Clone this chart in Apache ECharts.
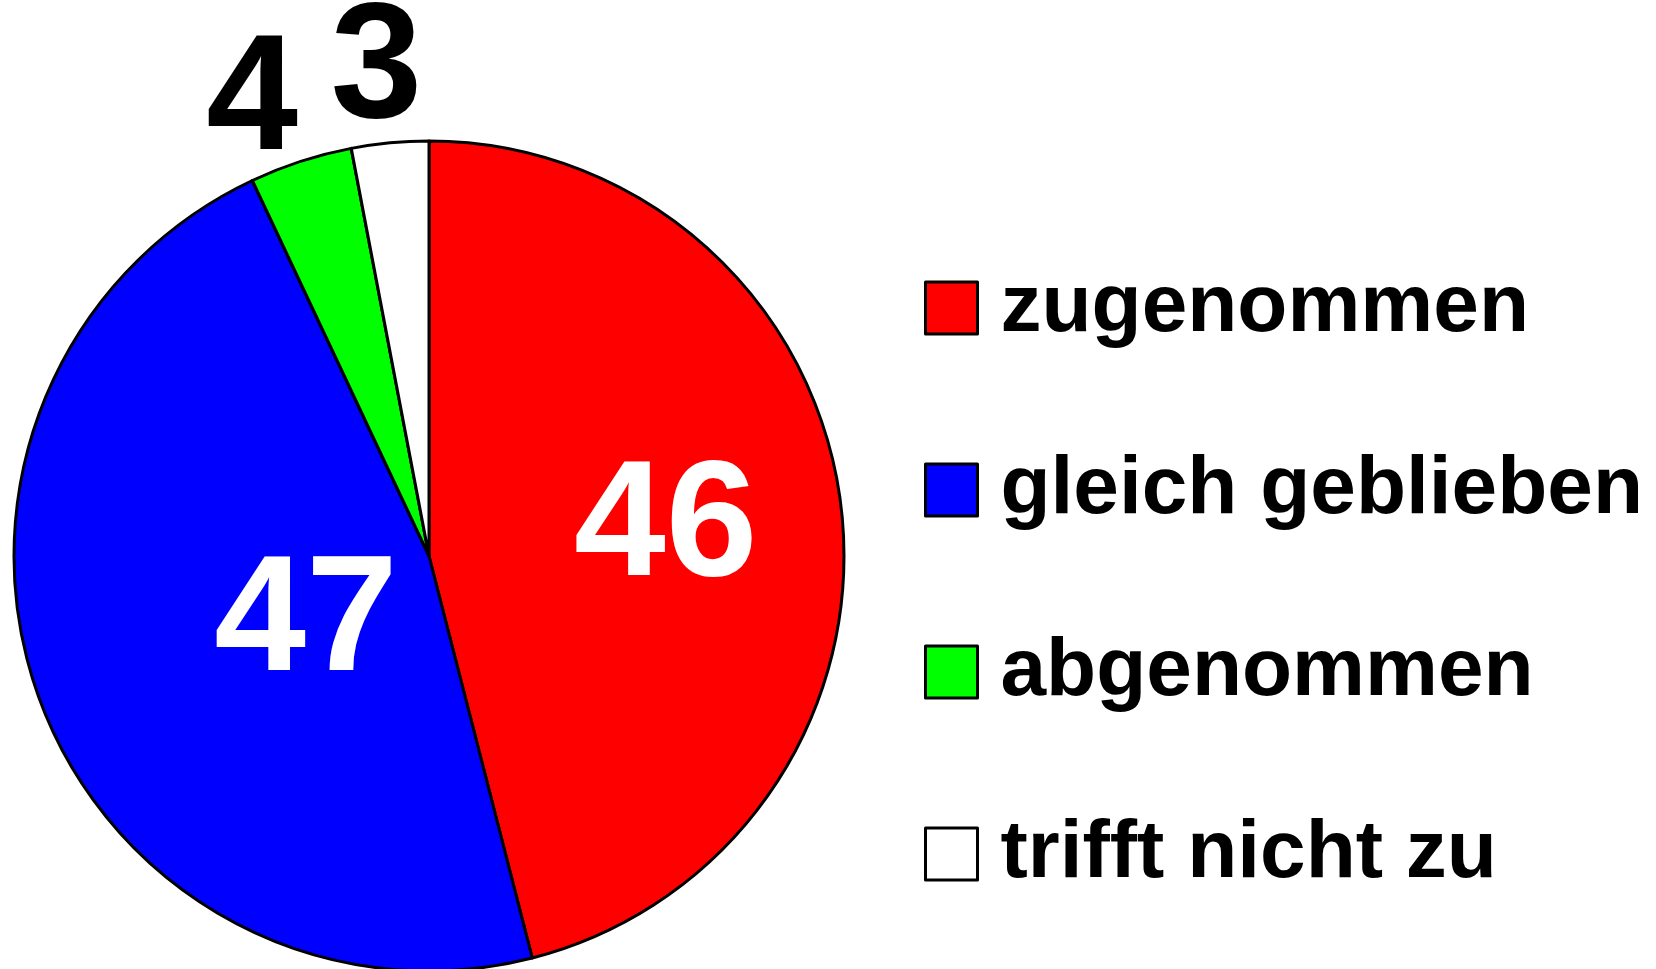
<!DOCTYPE html>
<html>
<head>
<meta charset="utf-8">
<script src="https://cdn.jsdelivr.net/npm/echarts@6/dist/echarts.min.js"></script>
<style>
  html, body { margin: 0; padding: 0; background: #fff; }
  #chart { width: 1656px; height: 969px; }
</style>
</head>
<body>
<div id="chart"></div>
<script>
// Antworten (Anzahl) und Farben
const categories = ['zugenommen', 'gleich geblieben', 'abgenommen', 'trifft nicht zu'];
const values = [46, 47, 4, 3];
const colors = ['#ff0000', '#0000ff', '#00ff00', '#ffffff'];

const FONT = '"Liberation Sans", Arial, sans-serif';

// Feinjustierung der Beschriftung (Verschiebung in Pixel)
const labelShift = {
    0: [28, 0],
    1: [75, -3],
    2: [24, 9],
    3: [44, -2]
};

const chart = echarts.init(document.getElementById('chart'));

chart.setOption({
    animation: false,
    backgroundColor: '#fff',
    legend: {
        orient: 'vertical',
        left: 924,
        top: 267,
        padding: 0,
        itemWidth: 52,
        itemHeight: 52,
        itemGap: 100,
        icon: 'rect',
        selectedMode: false,
        itemStyle: { borderColor: '#000', borderWidth: 3 },
        textStyle: {
            fontFamily: FONT,
            fontWeight: 'bold',
            fontSize: 82,
            color: '#000',
            padding: [0, 0, 0, 18]
        }
    },
    series: [{
        type: 'pie',
        center: [429, 556],
        radius: 415,
        startAngle: 90,
        clockwise: true,
        avoidLabelOverlap: false,
        itemStyle: {
            borderColor: '#000',
            borderWidth: 3
        },
        labelLine: { show: false, length: 70, length2: 0 },
        labelLayout: function (params) {
            const s = labelShift[params.dataIndex] || [0, 0];
            return { dx: s[0], dy: s[1] };
        },
        data: categories.map((name, i) => ({
            name: name,
            value: values[i],
            itemStyle: { color: colors[i] },
            label: i < 2 ? {
                position: 'inside',
                color: '#fff'
            } : {
                position: 'outside',
                color: '#000'
            }
        })),
        label: {
            show: true,
            formatter: '{c}',
            fontFamily: FONT,
            fontWeight: 'bold',
            fontSize: 165
        },
        emphasis: { disabled: true }
    }]
});
</script>
</body>
</html>
